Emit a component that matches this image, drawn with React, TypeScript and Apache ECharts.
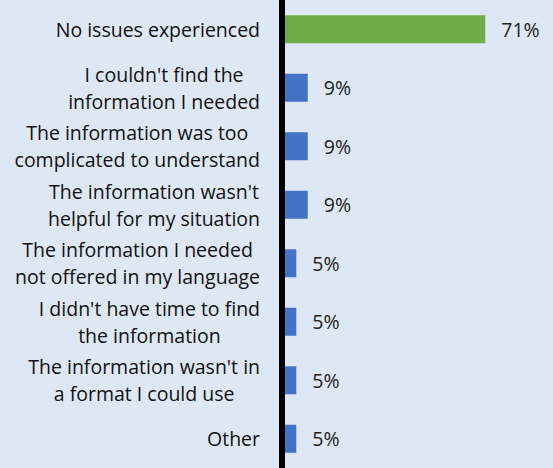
import React, { useEffect, useRef } from "react";
import * as echarts from "echarts";

const categories: string[] = [
  "No issues experienced",
  "I couldn't find the\ninformation I needed",
  "The information was too\ncomplicated to understand",
  "The information wasn't\nhelpful for my situation",
  "The information I needed\nnot offered in my language",
  "I didn't have time to find\nthe information",
  "The information wasn't in\na format I could use",
  "Other",
];
const values: number[] = [71, 9, 9, 9, 5, 5, 5, 5];
const barColors: string[] = ["#70ad47", "#4472c4", "#4472c4", "#4472c4", "#4472c4", "#4472c4", "#4472c4", "#4472c4"];

const FONT = "Open Sans";

export default function App() {
  const ref = useRef<HTMLDivElement>(null);
  useEffect(() => {
    if (!ref.current) return;
    const chart = echarts.init(ref.current, undefined, { renderer: "svg" });
    chart.setOption({
      animation: false,
      backgroundColor: "#dee8f4",
      grid: { left: 282, top: -1, width: 229, height: 474, containLabel: false },
      xAxis: {
        type: "value",
        min: 0,
        max: 80,
        show: false,
      },
      yAxis: {
        type: "category",
        data: categories,
        inverse: true,
        z: 10,
        axisLine: { show: true, lineStyle: { color: "#000000", width: 6 } },
        axisTick: { show: false },
        splitLine: { show: false },
        axisLabel: {
          margin: 22,
          interval: 0,
          formatter: (v: string) => v.split("\n").map((l) => `{c|${l}}`).join("\n"),
          rich: {
            c: {
              align: "center",
              fontFamily: FONT,
              fontSize: 19.5,
              lineHeight: 27,
              color: "#111111",
            },
          },
        },
      },
      series: [
        {
          type: "bar",
          barWidth: 28,
          data: values.map((v, i) => ({ value: v, itemStyle: { color: barColors[i] } })),
          label: {
            show: true,
            position: "right",
            distance: 16,
            formatter: "{c}%",
            fontFamily: FONT,
            fontSize: 19.5,
            color: "#222222",
          },
        },
      ],
    });
    return () => chart.dispose();
  }, []);
  return (
    <div
      ref={ref}
      style={{ position: "fixed", left: 0, top: 0, width: 553, height: 468, background: "#dee8f4" }}
    />
  );
}
